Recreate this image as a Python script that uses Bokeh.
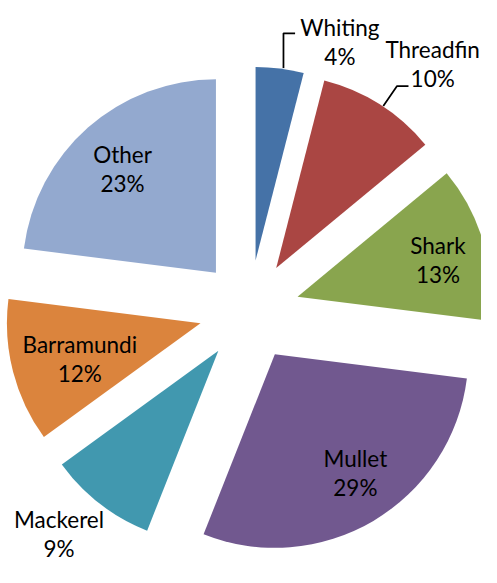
import numpy as np
from bokeh.plotting import figure
from bokeh.models import ColumnDataSource
from bokeh.embed import file_html
from bokeh.resources import INLINE
from bokeh.core.properties import value

# ---- data ----
categories = ["Whiting", "Threadfin", "Shark", "Mullet", "Mackerel", "Barramundi", "Other"]
percent = [4, 10, 13, 29, 9, 12, 23]
colors = ["#4572A7", "#AA4643", "#89A54E", "#71588F", "#4198AF", "#DB843D", "#93A9CF"]

# ---- layout (data space mirrors the 497x583 chart area) ----
W, H = 481, 567
XR, YR = 497, 583
CX, CY = 257, 264
R = 200
EXPLODE = 52
# label placement: distance from slice apex, angle tweak (deg)
label_r = [241, 265, 150, 148, 250, 130, 144]
label_dt = [14.0, 5.2, 1.5, -3.6, 3.4, -2.0, -0.7]
LINE_GAP = 15
# leader lines (only for outside labels): arc angle tweak, elbow offset from label centre
leaders = {0: (1.1, (None, 9)), 1: (1.2, (-37, -23))}

vals = np.array(percent, dtype=float)
frac = vals / vals.sum()
cum_end = np.cumsum(frac) * 360.0
cum_start = cum_end - frac * 360.0
mid = (cum_start + cum_end) / 2.0


def unit(theta_deg):
    t = np.radians(theta_deg)
    return np.sin(t), np.cos(t)


ux, uy = unit(mid)
ax = CX + EXPLODE * ux
ay = CY + EXPLODE * uy

src = ColumnDataSource(dict(
    x=ax, y=ay,
    start=np.radians(90 - cum_end),
    end=np.radians(90 - cum_start),
    color=colors,
))

p = figure(width=W, height=H, x_range=(0, XR), y_range=(0, YR),
           output_backend="svg", toolbar_location=None, min_border=0)
p.axis.visible = False
p.grid.visible = False
p.outline_line_color = None
p.background_fill_color = "white"

p.wedge(x="x", y="y", radius=R, start_angle="start", end_angle="end",
        direction="anticlock", fill_color="color", line_color=None, source=src)

lx, ly, names, pcts = [], [], [], []
for i in range(len(categories)):
    dx, dy = unit(mid[i] + label_dt[i])
    lx.append(ax[i] + label_r[i] * dx)
    ly.append(ay[i] + label_r[i] * dy)
    names.append(categories[i])
    pcts.append(f"{percent[i]}%")

lx = np.array(lx)
ly = np.array(ly)
tsrc = ColumnDataSource(dict(x=lx, y1=ly + LINE_GAP, y2=ly - LINE_GAP, name=names, pct=pcts))
common = dict(text_font=value("Lato"), text_font_size="22.5px", text_color="#000000",
              text_align="center", text_baseline="middle", source=tsrc)
p.text(x="x", y="y1", text="name", **common)
p.text(x="x", y="y2", text="pct", **common)

for i, (dt, (ex, ey)) in leaders.items():
    dx, dy = unit(mid[i] + dt)
    sx = ax[i] + R * dx
    sy = ay[i] + R * dy
    ex_x = sx if ex is None else lx[i] + ex
    ex_y = ly[i] + ey
    p.line([sx, ex_x, ex_x + 12], [sy, ex_y, ex_y], line_color="#000000", line_width=1.75)

open("out.html", "w").write(file_html(p, INLINE))
